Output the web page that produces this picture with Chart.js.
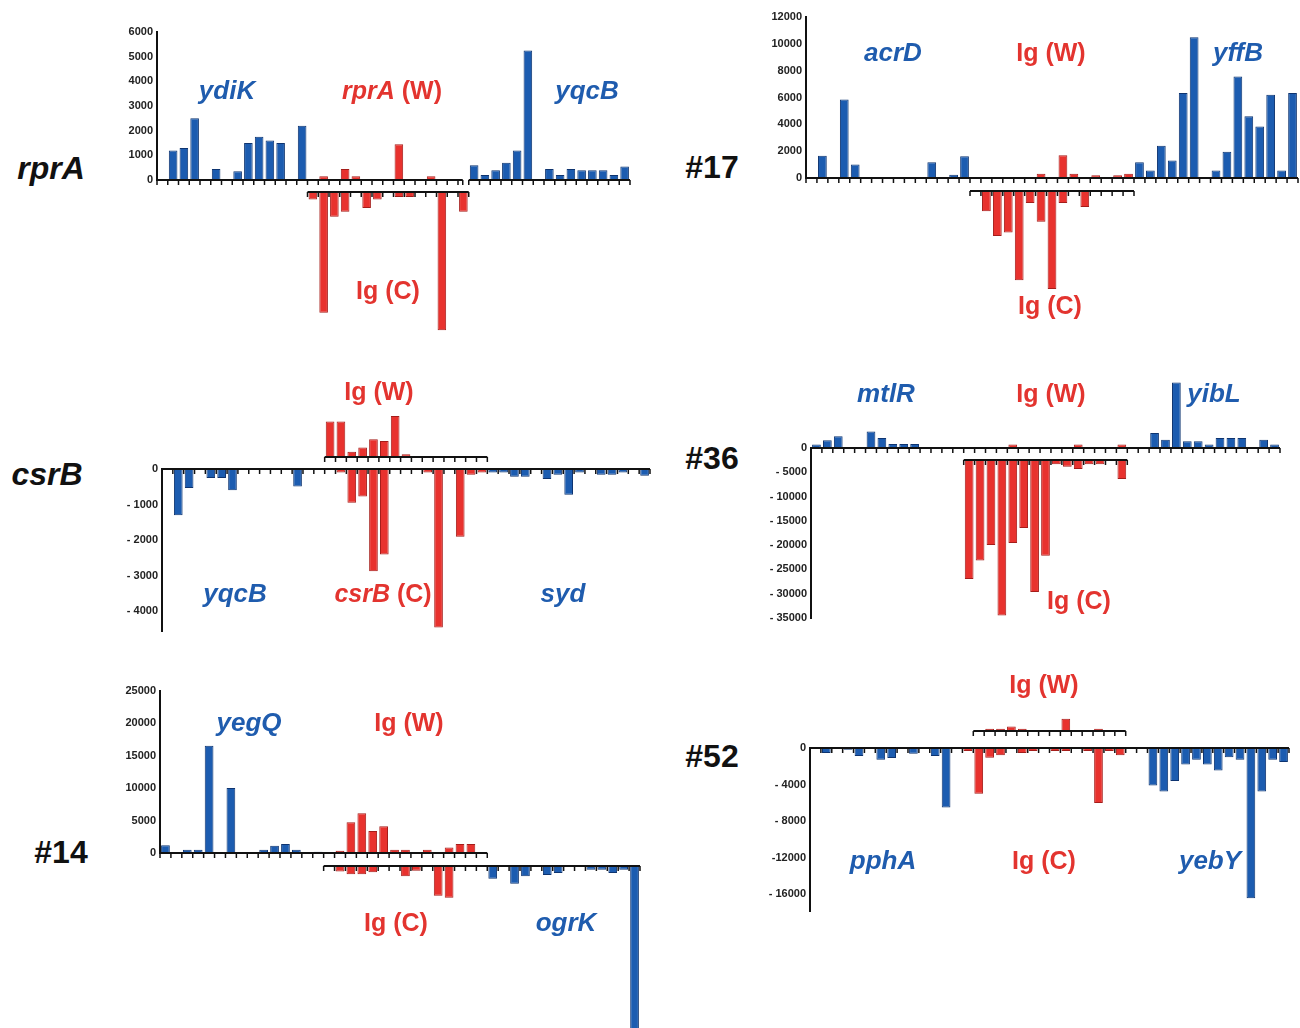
<!DOCTYPE html>
<html>
<head>
<meta charset="utf-8">
<script src="https://cdn.jsdelivr.net/npm/chart.js@4.4.1/dist/chart.umd.min.js"></script>
<style>
  body { margin: 0; background: #fff; }
  #page { position: relative; width: 1300px; height: 1028px; overflow: hidden; font-family: "Liberation Sans", Arial, sans-serif; }
  .panel { position: absolute; }
  .lbl { position: absolute; transform: translate(-50%, -50%); font-weight: bold; white-space: nowrap; line-height: 1; }
  .gene { font-style: italic; color: #1f5cae; font-size: 26px; }
  .ig { color: #e3342f; font-size: 25px; }
  .ig i { font-style: italic; }
  .name { font-size: 32px; color: #111; }
</style>
</head>
<body>
<div id="page">
  <div class="panel" id="p-rprA"><canvas id="c-rprA"></canvas></div>
  <div class="panel" id="p-17"><canvas id="c-17"></canvas></div>
  <div class="panel" id="p-csrB"><canvas id="c-csrB"></canvas></div>
  <div class="panel" id="p-36"><canvas id="c-36"></canvas></div>
  <div class="panel" id="p-14"><canvas id="c-14"></canvas></div>
  <div class="panel" id="p-52"><canvas id="c-52"></canvas></div>

  <div class="lbl name" style="left:51px;top:168px"><i>rprA</i></div>
  <div class="lbl gene" style="left:227px;top:90px">ydiK</div>
  <div class="lbl ig" style="left:392px;top:90px"><i>rprA</i> (W)</div>
  <div class="lbl gene" style="left:587px;top:90px">yqcB</div>
  <div class="lbl ig" style="left:388px;top:290px">Ig (C)</div>

  <div class="lbl name" style="left:712px;top:167px">#17</div>
  <div class="lbl gene" style="left:893px;top:52px">acrD</div>
  <div class="lbl ig" style="left:1051px;top:52px">Ig (W)</div>
  <div class="lbl gene" style="left:1238px;top:52px">yffB</div>
  <div class="lbl ig" style="left:1050px;top:305px">Ig (C)</div>

  <div class="lbl name" style="left:47px;top:474px"><i>csrB</i></div>
  <div class="lbl ig" style="left:379px;top:391px">Ig (W)</div>
  <div class="lbl gene" style="left:235px;top:593px">yqcB</div>
  <div class="lbl ig" style="left:383px;top:593px"><i>csrB</i> (C)</div>
  <div class="lbl gene" style="left:563px;top:593px">syd</div>

  <div class="lbl name" style="left:712px;top:458px">#36</div>
  <div class="lbl gene" style="left:886px;top:393px">mtlR</div>
  <div class="lbl ig" style="left:1051px;top:393px">Ig (W)</div>
  <div class="lbl gene" style="left:1214px;top:393px">yibL</div>
  <div class="lbl ig" style="left:1079px;top:600px">Ig (C)</div>

  <div class="lbl name" style="left:61px;top:852px">#14</div>
  <div class="lbl gene" style="left:249px;top:722px">yegQ</div>
  <div class="lbl ig" style="left:409px;top:722px">Ig (W)</div>
  <div class="lbl ig" style="left:396px;top:922px">Ig (C)</div>
  <div class="lbl gene" style="left:566px;top:922px">ogrK</div>

  <div class="lbl name" style="left:712px;top:756px">#52</div>
  <div class="lbl ig" style="left:1044px;top:684px">Ig (W)</div>
  <div class="lbl gene" style="left:883px;top:860px">pphA</div>
  <div class="lbl ig" style="left:1044px;top:860px">Ig (C)</div>
  <div class="lbl gene" style="left:1210px;top:860px">yebY</div>
</div>

<script>
// --- rprA ---
const rprALeft  = [0, 1200, 1300, 2500, 0, 450, 0, 350, 1500, 1750, 1600, 1500, 0, 2200];
const rprAW     = [0, 150, 0, 450, 150, 0, 0, 0, 1450, 0, 0, 150, 0, 0, 0];
const rprAC     = [-300, -4900, -1000, -800, 0, -650, -300, 0, -200, -200, 0, 0, -5600, 0, -800];
const rprARight = [600, 200, 400, 700, 1200, 5250, 0, 450, 200, 450, 400, 400, 400, 200, 550];
const rprATicks = [0, 1000, 2000, 3000, 4000, 5000, 6000];
const rprATickLabels = ['0', '1000', '2000', '3000', '4000', '5000', '6000'];

// --- #17 ---
const p17Left  = [0, 1650, 0, 5850, 1000, 0, 0, 0, 0, 0, 0, 1180, 0, 250, 1620];
const p17W     = [0, 0, 0, 0, 0, 0, 320, 0, 1700, 320, 0, 200, 0, 200, 320];
const p17C     = [0, -1500, -3350, -3100, -6650, -900, -2300, -7300, -900, 0, -1200, 0, 0, 0, 0];
const p17Right = [1180, 560, 2400, 1300, 6330, 10500, 0, 560, 1960, 7560, 4600, 3830, 6200, 560, 6330];
const p17Ticks = [0, 2000, 4000, 6000, 8000, 10000, 12000];
const p17TickLabels = ['0', '2000', '4000', '6000', '8000', '10000', '12000'];

// --- csrB ---
const csrBLeft  = [0, -1300, -530, 0, -250, -250, -600, 0, 0, 0, 0, 0, -490, 0, 0];
const csrBW     = [1000, 1000, 150, 270, 500, 450, 1150, 80, 0, 0, 0, 0, 0, 0, 0];
const csrBC     = [0, -100, -950, -770, -2870, -2400, 0, 0, 0, -100, -4450, 0, -1900, -160, -100];
const csrBRight = [-100, -100, -220, -220, 0, -280, -160, -720, -100, 0, -160, -160, -100, 0, -190];
const csrBTicks = [0, -1000, -2000, -3000, -4000];
const csrBTickLabels = ['0', '- 1000', '- 2000', '- 3000', '- 4000'];

// --- #36 ---
const p36Left  = [700, 1600, 2400, 0, 0, 3400, 2050, 800, 800, 800, 0, 0, 0, 0];
const p36W     = [0, 0, 0, 0, 700, 0, 0, 0, 0, 0, 700, 0, 0, 0, 700];
const p36C     = [-24500, -20700, -17500, -32000, -17100, -14000, -27200, -19700, -900, -1400, -1850, -900, -900, 0, -3900];
const p36Right = [0, 0, 3100, 1700, 13500, 1400, 1400, 700, 2050, 2050, 2050, 0, 1700, 700];
const p36Ticks = [0, -5000, -10000, -15000, -20000, -25000, -30000, -35000];
const p36TickLabels = ['0', '- 5000', '- 10000', '- 15000', '- 20000', '- 25000', '- 30000', '- 35000'];

// --- #14 ---
const p14Left  = [1200, 0, 500, 500, 16500, 0, 10000, 0, 0, 500, 1100, 1400, 500, 0, 200];
const p14W     = [0, 350, 4750, 6100, 3400, 4100, 500, 500, 0, 500, 0, 850, 1400, 1400, 0];
const p14C     = [-100, -850, -1300, -1300, -1000, 0, 0, -1600, -750, 0, -4600, -4900, 0, 0, 0];
const p14Right = [-2000, 0, -2750, -1600, 0, -1400, -1100, 0, 0, -600, -600, -1100, -600, -26000];
const p14Ticks = [0, 5000, 10000, 15000, 20000, 25000];
const p14TickLabels = ['0', '5000', '10000', '15000', '20000', '25000'];

// --- #52 ---
const p52Left  = [0, -550, 0, -200, -880, 0, -1280, -1100, 0, -620, 0, -880, -6500, 0];
const p52W     = [0, 0, 250, 250, 500, 250, 0, 0, 0, 1350, 0, 0, 250, 0, 0];
const p52C     = [-330, -5000, -1060, -800, 0, -550, -330, 0, -330, -330, 0, -330, -6000, -330, -800];
const p52Right = [0, 0, -4100, -4750, -3600, -1800, -1280, -1800, -2450, -1000, -1280, -16400, -4750, -1280, -1540];
const p52Ticks = [0, -4000, -8000, -12000, -16000];
const p52TickLabels = ['0', '- 4000', '- 8000', '-12000', '- 16000'];

const BLUE = '#1c5cb0', BLUE_EDGE = '#0e3470';
const RED = '#e8322e', RED_EDGE = '#a51d1a';

// Geometria de cada painel (pixels da página) e eixo de cada linha de barras
const panels = [
  { id: 'rprA', left: rprALeft, w: rprAW, c: rprAC, right: rprARight, ticks: rprATicks, tickLabels: rprATickLabels,
    min: 0, max: 6000, x: 97, top: 20, axisX: 157, endX: 630, yTop: 32, yBottom: 180, bottom: 340, width: 543,
    offset: 12, wAxis: 'y', cAxis: 'yo', rightAxis: 'y',
    lines: [{ from: 0, to: 29, axis: 'y', trimEnd: 6 }, { from: 29, to: 44, axis: 'y' }, { from: 14, to: 29, axis: 'yo' }] },
  { id: '17', left: p17Left, w: p17W, c: p17C, right: p17Right, ticks: p17Ticks, tickLabels: p17TickLabels,
    min: 0, max: 12000, x: 746, top: 6, axisX: 806, endX: 1298, yTop: 17, yBottom: 178, bottom: 300, width: 554,
    offset: 13, wAxis: 'y', cAxis: 'yo', rightAxis: 'y',
    lines: [{ from: 0, to: 45, axis: 'y' }, { from: 15, to: 30, axis: 'yo' }] },
  { id: 'csrB', left: csrBLeft, w: csrBW, c: csrBC, right: csrBRight, ticks: csrBTicks, tickLabels: csrBTickLabels,
    min: -4560, max: 0, x: 102, top: 405, axisX: 162, endX: 650, yTop: 469, yBottom: 632, bottom: 642, width: 558,
    offset: -12, wAxis: 'yo', cAxis: 'y', rightAxis: 'y',
    lines: [{ from: 0, to: 45, axis: 'y' }, { from: 15, to: 30, axis: 'yo' }] },
  { id: '36', left: p36Left, w: p36W, c: p36C, right: p36Right, ticks: p36Ticks, tickLabels: p36TickLabels,
    min: -35000, max: 0, x: 751, top: 372, axisX: 811, endX: 1280, yTop: 448, yBottom: 618, bottom: 630, width: 540,
    offset: 12, wAxis: 'y', cAxis: 'yo', rightAxis: 'y',
    lines: [{ from: 0, to: 43, axis: 'y' }, { from: 14, to: 29, axis: 'yo' }] },
  { id: '14', left: p14Left, w: p14W, c: p14C, right: p14Right, ticks: p14Ticks, tickLabels: p14TickLabels,
    min: 0, max: 25000, x: 100, top: 680, axisX: 160, endX: 640, yTop: 689, yBottom: 853, bottom: 1028, width: 550,
    offset: 13, wAxis: 'y', cAxis: 'yo', rightAxis: 'yo',
    lines: [{ from: 0, to: 30, axis: 'y' }, { from: 15, to: 44, axis: 'yo' }] },
  { id: '52', left: p52Left, w: p52W, c: p52C, right: p52Right, ticks: p52Ticks, tickLabels: p52TickLabels,
    min: -17850, max: 0, x: 750, top: 712, axisX: 810, endX: 1289, yTop: 748, yBottom: 912, bottom: 922, width: 545,
    offset: -17, wAxis: 'yo', cAxis: 'y', rightAxis: 'y',
    lines: [{ from: 0, to: 44, axis: 'y' }, { from: 15, to: 29, axis: 'yo' }] }
];

// Desenha as linhas de base (eixo principal e colchete) com as marcas entre as barras
const baselinePlugin = {
  id: 'baselines',
  afterDatasetsDraw(chart, args, opts) {
    const { ctx, scales } = chart;
    const bx = i => scales.x.getPixelForValue(i - 0.5);
    ctx.save();
    ctx.strokeStyle = '#111';
    (opts.lines || []).forEach(seg => {
      const y = Math.round(scales[seg.axis].getPixelForValue(0));
      const x0 = bx(seg.from);
      const x1 = bx(seg.to) - (seg.trimEnd || 0);
      ctx.lineWidth = 2;
      ctx.beginPath();
      ctx.moveTo(x0, y);
      ctx.lineTo(x1, y);
      ctx.stroke();
      ctx.lineWidth = 1.5;
      for (let i = seg.from; i <= seg.to; i++) {
        const x = Math.min(bx(i), x1);
        ctx.beginPath();
        ctx.moveTo(x, y);
        ctx.lineTo(x, y + 5);
        ctx.stroke();
      }
    });
    ctx.restore();
  }
};

function spread(values, start, total) {
  const out = new Array(total).fill(null);
  values.forEach((v, i) => { out[start + i] = v === 0 ? null : v; });
  return out;
}

function barSet(label, data, fill, edge, axis) {
  return {
    label: label,
    data: data,
    yAxisID: axis,
    backgroundColor: fill,
    borderColor: edge,
    borderWidth: 1,
    borderSkipped: false,
    grouped: false,
    barPercentage: 0.8,
    categoryPercentage: 1,
    clip: false
  };
}

panels.forEach(p => {
  const n = p.left.length + p.w.length + p.right.length;
  const midStart = p.left.length;
  const rightStart = midStart + p.w.length;
  const labels = Array.from({ length: n }, (_, i) => String(i + 1));
  const height = p.bottom - p.top;
  const plotH = p.yBottom - p.yTop;
  const shift = p.offset * (p.max - p.min) / plotH;
  const yAxisW = p.axisX - p.x;

  const box = document.getElementById('p-' + p.id);
  box.style.left = p.x + 'px';
  box.style.top = p.top + 'px';
  const canvas = document.getElementById('c-' + p.id);
  canvas.width = p.width;
  canvas.height = height;
  canvas.style.width = p.width + 'px';
  canvas.style.height = height + 'px';

  new Chart(canvas.getContext('2d'), {
    type: 'bar',
    data: {
      labels: labels,
      datasets: [
        barSet('left', spread(p.left, 0, n), BLUE, BLUE_EDGE, 'y'),
        barSet('W', spread(p.w, midStart, n), RED, RED_EDGE, p.wAxis),
        barSet('C', spread(p.c, midStart, n), RED, RED_EDGE, p.cAxis),
        barSet('right', spread(p.right, rightStart, n), BLUE, BLUE_EDGE, p.rightAxis)
      ]
    },
    options: {
      responsive: false,
      animation: false,
      devicePixelRatio: 1,
      layout: {
        padding: { left: 0, right: p.width - (p.endX - p.x), top: p.yTop - p.top, bottom: p.bottom - p.yBottom }
      },
      plugins: {
        legend: { display: false },
        tooltip: { enabled: false },
        baselines: { lines: p.lines }
      },
      scales: {
        x: { display: false },
        y: {
          min: p.min,
          max: p.max,
          afterFit(scale) { scale.width = yAxisW; },
          afterBuildTicks(scale) { scale.ticks = p.ticks.map(v => ({ value: v })); },
          grid: { display: false, drawTicks: false },
          border: { display: true, width: 2, color: '#111' },
          ticks: {
            padding: 4,
            color: '#222',
            font: { family: 'Liberation Sans', weight: 'bold', size: 11 },
            callback: function(value) {
              const i = p.ticks.indexOf(value);
              return i >= 0 ? p.tickLabels[i] : '';
            }
          }
        },
        yo: { display: false, min: p.min + shift, max: p.max + shift }
      }
    },
    plugins: [baselinePlugin]
  });
});
</script>
</body>
</html>
